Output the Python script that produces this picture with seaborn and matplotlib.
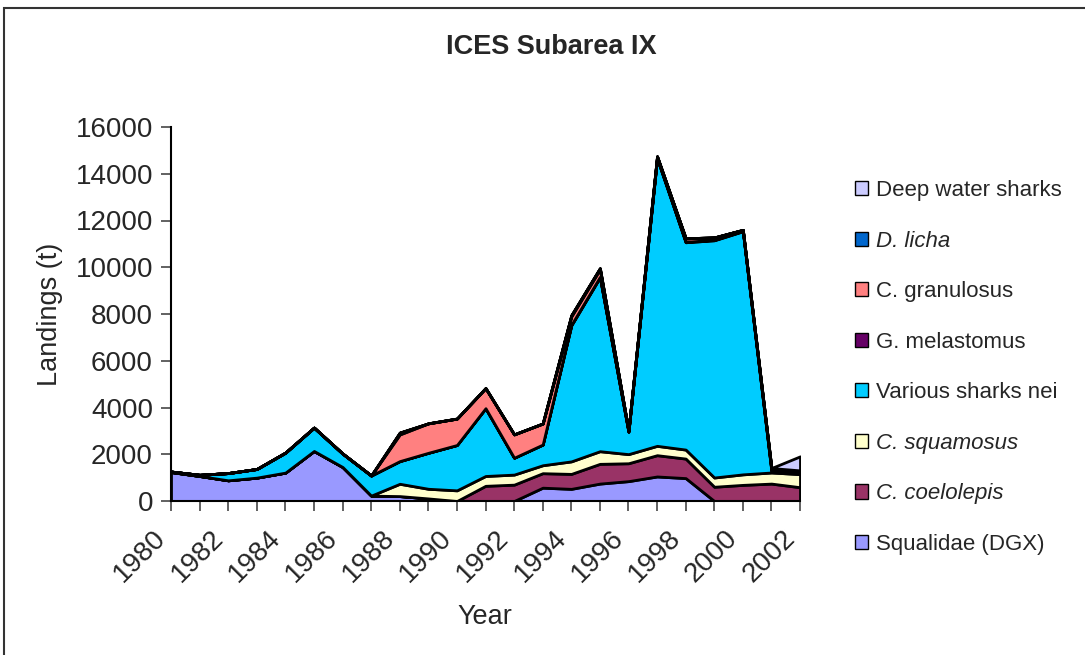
import numpy as np
import pandas as pd
import matplotlib
matplotlib.use("Agg")
import matplotlib.pyplot as plt
from matplotlib.patches import Patch, Rectangle
from matplotlib.transforms import ScaledTranslation
import seaborn as sns

# Landings (t) by species group, ICES Subarea IX
years = list(range(1980, 2003))
squalidae = [1240, 1070, 885, 1000, 1215, 2140, 1455, 230, 210, 110, 0, 0,
             0, 570, 520, 745, 850, 1050, 980, 0, 0, 0, 0]
coelolepis = [0, 0, 0, 0, 0, 0, 0, 0, 0, 0, 0, 650,
              700, 620, 640, 845, 765, 910, 835, 610, 690, 745, 590]
squamosus = [0, 0, 0, 0, 0, 0, 0, 0, 527, 413, 456, 420,
             430, 340, 535, 540, 390, 400, 385, 395, 450, 475, 560]
various = [20, 50, 310, 370, 855, 1000, 575, 860, 970, 1540, 1940, 2900,
           720, 885, 5820, 7440, 960, 12300, 8870, 10150, 10400, 60, 40]
melastomus = [0, 0, 0, 0, 0, 0, 0, 0, 0, 0, 0, 0,
              0, 0, 20, 20, 0, 20, 20, 20, 20, 40, 40]
granulosus = [0, 0, 0, 0, 0, 0, 0, 0, 1140, 1260, 1130, 860,
              1000, 900, 360, 320, 40, 50, 150, 100, 40, 60, 60]
licha = [0, 0, 0, 0, 0, 0, 0, 0, 80, 0, 0, 0,
         0, 0, 50, 50, 0, 20, 0, 0, 0, 30, 20]
deep_water = [0, 0, 0, 0, 0, 0, 0, 0, 0, 0, 0, 0,
              0, 0, 0, 0, 0, 0, 0, 0, 0, 0, 600]

# Top of the stack first (this is also the legend order)
species = ["Deep water sharks", "D. licha", "C. granulosus", "G. melastomus",
           "Various sharks nei", "C. squamosus", "C. coelolepis", "Squalidae (DGX)"]
colors = ["#CCCCFF", "#0066CC", "#FF8080", "#660066",
          "#00CCFF", "#FFFFCC", "#993366", "#9999FF"]
italic_names = {"D. licha", "C. squamosus", "C. coelolepis"}
series = [deep_water, licha, granulosus, melastomus,
          various, squamosus, coelolepis, squalidae]

df = pd.DataFrame({
    "Year": np.tile(years, len(species)),
    "Species": np.repeat(species, len(years)),
    "Landings": np.concatenate([np.asarray(s, dtype=float) for s in series]),
})

sns.set_theme(style="white")
plt.rcParams["font.family"] = ["Liberation Sans", "DejaVu Sans"]

W, H = 1085, 655
fig = plt.figure(figsize=(W / 100, H / 100), dpi=100)
ax = fig.add_axes([171 / W, 1 - 501 / H, 629 / W, 374 / H])

sns.histplot(data=df, x="Year", weights="Landings", hue="Species",
             hue_order=species, palette=colors, multiple="stack",
             element="poly", discrete=True, alpha=1, edgecolor="black",
             linewidth=2.0, legend=False, ax=ax)

ax.set_xlim(1980, 2002)
ax.set_ylim(0, 16000)
ax.set_xlabel("")
ax.set_ylabel("")

ax.set_yticks(np.arange(0, 16001, 2000))
ax.set_yticklabels([str(v) for v in range(0, 16001, 2000)], fontsize=20)
ax.set_xticks(years)
ax.set_xticklabels([str(y) if y % 2 == 0 else "" for y in years], fontsize=20,
                   rotation=45, ha="right", va="center", rotation_mode="anchor")
ax.tick_params(axis="both", direction="out", length=7, width=1.3,
               color="#555555", left=True, bottom=True)
ax.tick_params(axis="y", pad=6)
ax.tick_params(axis="x", pad=17)
shift = ScaledTranslation(-0.09, 0, fig.dpi_scale_trans)
for lab in ax.get_xticklabels():
    lab.set_transform(lab.get_transform() + shift)

for side in ("top", "right"):
    ax.spines[side].set_visible(False)
for side in ("left", "bottom"):
    ax.spines[side].set_color("black")
    ax.spines[side].set_linewidth(1.5)

fig.text(551 / W, 1 - 47 / H, "ICES Subarea IX", ha="center", va="center",
         fontsize=19.5, fontweight="bold")
fig.text(50 / W, 1 - 314 / H, "Landings (t)", ha="center", va="center",
         rotation=90, fontsize=19.5)
fig.text(485 / W, 1 - 617 / H, "Year", ha="center", va="center", fontsize=19.5)

handles = [Patch(facecolor=c, edgecolor="black", linewidth=1) for c in colors]
leg = fig.legend(handles, species, loc="upper left",
                 bbox_to_anchor=(855 / W, 1 - 180 / H), frameon=False,
                 fontsize=16, handlelength=0.6, handleheight=0.6,
                 handletextpad=0.35, labelspacing=1.33,
                 borderaxespad=0, borderpad=0)
for t in leg.get_texts():
    if t.get_text() in italic_names:
        t.set_style("italic")

# Chart-area frame
fig.patches.append(Rectangle((4 / W, -0.05), 1.2, 1 - 8 / H + 0.05,
                             transform=fig.transFigure, fill=False,
                             edgecolor="#333333", linewidth=1.5))

fig.savefig("out.png", dpi=100, facecolor="white")
